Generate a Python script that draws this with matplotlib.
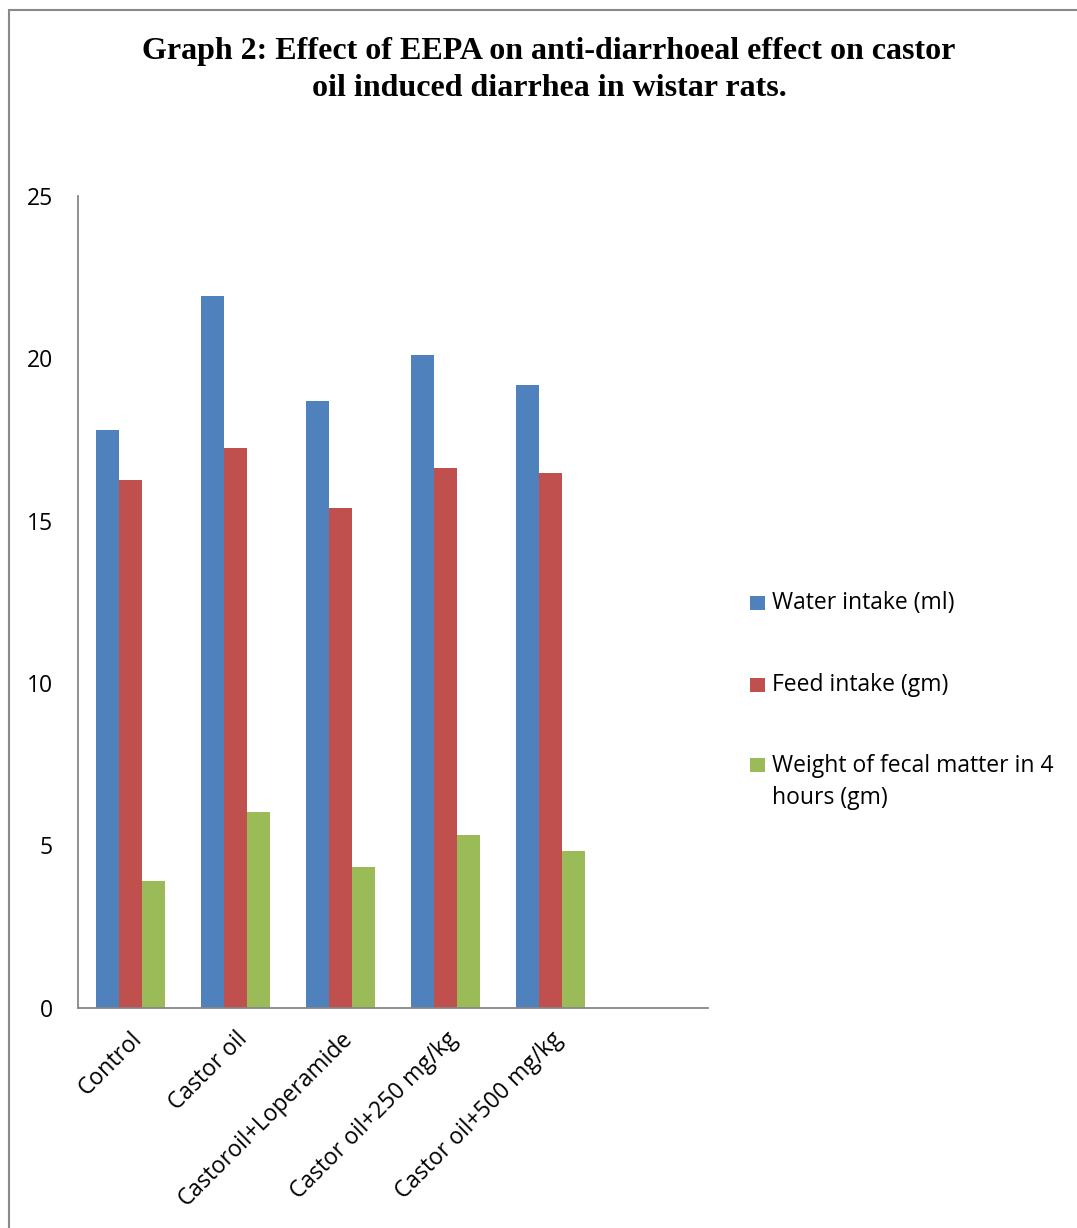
import matplotlib.pyplot as plt
from matplotlib.patches import Rectangle
from matplotlib.transforms import ScaledTranslation

# groups (the trailing blank slot keeps the empty space on the right of the axis)
groups = ["Control", "Castor oil", "Castoroil+Loperamide",
          "Castor oil+250 mg/kg", "Castor oil+500 mg/kg", ""]
series_names = ["Water intake (ml)", "Feed intake (gm)",
                "Weight of fecal matter in 4\nhours (gm)"]
water = [17.80, 21.90, 18.68, 20.10, 19.18]
feed = [16.24, 17.22, 15.39, 16.62, 16.46]
fecal = [3.89, 6.03, 4.34, 5.31, 4.83]
colors = ["#4F81BD", "#C0504D", "#9BBB59"]
yticks = [0, 5, 10, 15, 20, 25]

W, H = 1077, 1228
fig = plt.figure(figsize=(W / 100, H / 100), dpi=100)
ax = fig.add_axes([78 / W, 1 - 1007.7 / H, 630 / W, 812 / H])

bw = 0.219
for i, (vals, c) in enumerate(zip([water, feed, fecal], colors)):
    xs = [k + (i - 1) * bw for k in range(len(vals))]
    ax.bar(xs, vals, width=bw, color=c, linewidth=0)

fs = 16.5
ax.set_xlim(-0.5, len(groups) - 0.5)
ax.set_ylim(0, 25)
ax.set_yticks(yticks)
ax.set_yticklabels([str(t) for t in yticks], fontsize=fs, family="Open Sans")
ax.set_xticks(range(len(groups)))
ax.set_xticklabels(groups, rotation=45, ha="right", rotation_mode="anchor",
                   fontsize=fs, family="Open Sans")
# nudge the rotated category labels a little to the left
shift = ScaledTranslation(-5 / 100, 0, fig.dpi_scale_trans)
for lab in ax.get_xticklabels():
    lab.set_transform(lab.get_transform() + shift)
ax.tick_params(axis="both", length=0)
ax.tick_params(axis="y", pad=18)
ax.tick_params(axis="x", pad=14)
for s in ["top", "right"]:
    ax.spines[s].set_visible(False)
for s in ["left", "bottom"]:
    ax.spines[s].set_color("#868686")
    ax.spines[s].set_linewidth(1.3)

fig.text(549 / W, 1 - 70 / H,
         "Graph 2: Effect of EEPA on anti-diarrhoeal effect on castor\n"
         "oil induced diarrhea in wistar rats.",
         ha="center", va="center", fontsize=23, fontweight="bold",
         family="Liberation Serif", linespacing=1.32)

# legend drawn by hand, square marker beside the first line of each entry
leg_y = [603, 685, 765]
for name, c, y in zip(series_names, colors, leg_y):
    fig.add_artist(Rectangle((750 / W, 1 - (y + 7) / H), 15 / W, 14 / H,
                             transform=fig.transFigure, color=c, lw=0))
    if "\n" in name:
        fig.text(772 / W, 1 - (y - 11) / H, name, ha="left", va="top",
                 fontsize=fs, family="Open Sans", linespacing=1.45)
    else:
        fig.text(772 / W, 1 - y / H, name, ha="left", va="center",
                 fontsize=fs, family="Open Sans")

# outer frame
fig.add_artist(Rectangle((9 / W, -0.05), 1.1, 1 - 10 / H + 0.05,
                         transform=fig.transFigure, fill=False,
                         edgecolor="#898989", lw=1.5))

fig.savefig("out.png", dpi=100)
